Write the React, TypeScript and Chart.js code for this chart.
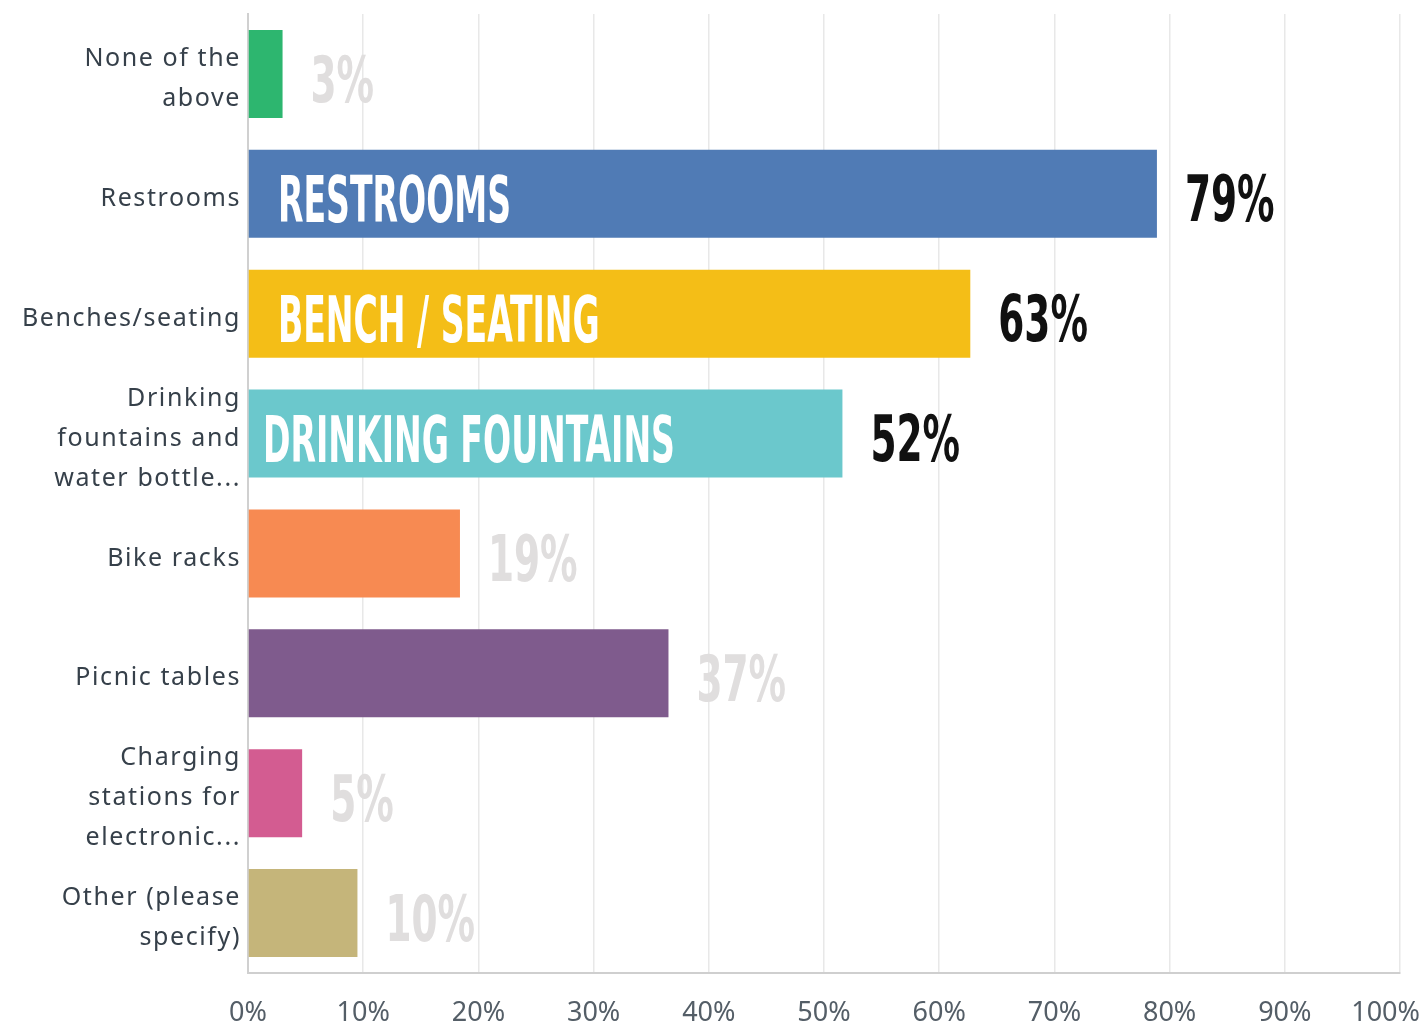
import React, { useEffect, useRef } from "react";
import { Chart, registerables } from "chart.js";

Chart.register(...registerables);

// ---------- data ----------
const categories: string[][] = [
  ["None of the", "above"],
  ["Restrooms"],
  ["Benches/seating"],
  ["Drinking", "fountains and", "water bottle..."],
  ["Bike racks"],
  ["Picnic tables"],
  ["Charging", "stations for", "electronic..."],
  ["Other (please", "specify)"],
];
const values: number[] = [3.0, 78.9, 62.7, 51.6, 18.4, 36.5, 4.7, 9.5];
const valueLabels: string[] = ["3%", "79%", "63%", "52%", "19%", "37%", "5%", "10%"];
const barTitles: string[] = ["", "RESTROOMS", "BENCH / SEATING", "DRINKING FOUNTAINS", "", "", "", ""];
const highlighted: boolean[] = [false, true, true, true, false, false, false, false];
const barColors: string[] = [
  "#2db66f",
  "#507bb5",
  "#f4be17",
  "#6bc8cc",
  "#f78a52",
  "#7f5b8d",
  "#d35c91",
  "#c5b57a",
];
const xTickValues: number[] = [0, 10, 20, 30, 40, 50, 60, 70, 80, 90, 100];

// ---------- styles ----------
const CONDENSED = "'Liberation Sans Narrow', 'DejaVu Sans Condensed', 'Arial Narrow', sans-serif";
const innerPad = [30, 30, 30, 15, 30, 30, 30, 30];

function drawScaled(ctx: CanvasRenderingContext2D, text: string, x: number, y: number, sx: number) {
  ctx.save();
  ctx.translate(x, y);
  ctx.scale(sx, 1);
  ctx.fillText(text, 0, 0);
  ctx.restore();
}

const textPlugin = {
  id: "customText",
  beforeDraw(chart: any) {
    (chart.ctx as any).letterSpacing = "1.6px";
  },
  afterDraw(chart: any) {
    const ctx: CanvasRenderingContext2D = chart.ctx;
    (ctx as any).letterSpacing = "0px";
    const xScale = chart.scales.x;
    const meta = chart.getDatasetMeta(0);
    const x0 = xScale.getPixelForValue(0);

    meta.data.forEach((bar: any, i: number) => {
      const { x, y } = bar.getProps(["x", "y"], true);
      ctx.save();
      ctx.font = `bold 64px ${CONDENSED}`;
      ctx.textBaseline = "middle";
      ctx.textAlign = "left";
      if (barTitles[i]) {
        ctx.fillStyle = "#ffffff";
        drawScaled(ctx, barTitles[i], x0 + innerPad[i], y + 12, 0.575);
      }
      ctx.fillStyle = highlighted[i] ? "#111111" : "#e0dede";
      drawScaled(ctx, valueLabels[i], x + 28, y + 11, 0.65);
      ctx.restore();
    });

    // x tick labels
    ctx.save();
    ctx.font = "27px 'Noto Sans', sans-serif";
    ctx.fillStyle = "#545e67";
    ctx.textBaseline = "middle";
    ctx.textAlign = "left";
    const yLab = chart.chartArea.bottom + 40;
    xTickValues.forEach((v) => {
      const label = `${v}%`;
      const px = xScale.getPixelForValue(v);
      const w = ctx.measureText(label).width;
      let left = px - w / 2;
      if (left + w > chart.width - 6) left = chart.width - 6 - w;
      ctx.fillText(label, left, yLab);
    });
    ctx.restore();
  },
};

export default function App() {
  const canvasRef = useRef<HTMLCanvasElement | null>(null);

  useEffect(() => {
    if (!canvasRef.current) return;
    const chart = new Chart(canvasRef.current, {
      type: "bar",
      data: {
        labels: categories,
        datasets: [
          {
            data: values,
            backgroundColor: barColors,
            borderWidth: 0,
            barPercentage: 0.735,
            categoryPercentage: 1,
          },
        ],
      },
      options: {
        indexAxis: "y",
        animation: false,
        responsive: true,
        maintainAspectRatio: false,
        layout: { padding: { top: 14, right: 26, left: 0, bottom: 0 } },
        plugins: {
          legend: { display: false },
          tooltip: { enabled: false },
        },
        scales: {
          x: {
            min: 0,
            max: 100,
            ticks: { display: false, stepSize: 10 },
            grid: { color: "#e8e8e8", lineWidth: 1.5, drawTicks: false },
            border: { color: "#cfcfcf", width: 2 },
            afterFit: (scale: any) => {
              scale.height = 56;
              scale.paddingLeft = 0;
              scale.paddingRight = 0;
            },
          },
          y: {
            grid: { display: false, drawTicks: false },
            border: { color: "#d0d0d0", width: 2 },
            ticks: {
              autoSkip: false,
              padding: 7,
              labelOffset: 5,
              color: "#36404a",
              font: { family: "'Noto Sans', sans-serif", size: 25, lineHeight: 1.6 },
            },
            afterFit: (scale: any) => {
              scale.width = 248;
              scale.paddingTop = 0;
              scale.paddingBottom = 0;
            },
          },
        },
      },
      plugins: [textPlugin],
    });
    return () => chart.destroy();
  }, []);

  return (
    <div
      style={{
        position: "fixed",
        left: 0,
        top: 0,
        width: 1426,
        height: 1029,
        background: "#ffffff",
      }}
    >
      <canvas ref={canvasRef} />
    </div>
  );
}
